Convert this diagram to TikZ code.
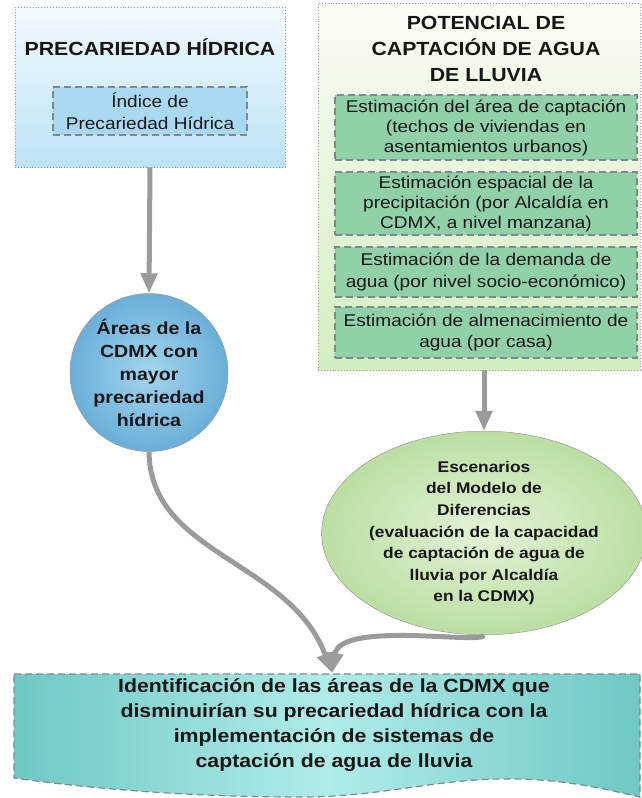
\documentclass[tikz,border=0pt]{standalone}
\usepackage{fontspec}
\setmainfont{Liberation Sans}[FakeStretch=1.12]
\usetikzlibrary{arrows.meta,shapes.geometric,calc}
\definecolor{textc}{HTML}{161616}
\definecolor{bordergray}{HTML}{9A9A9A}
\definecolor{dashgray}{HTML}{7C8A8C}
\definecolor{arrgray}{HTML}{9B9B9B}
\definecolor{lbtop}{HTML}{F3FAFE}
\definecolor{lbbot}{HTML}{BCE3F5}
\definecolor{idxblue}{HTML}{A8D9F1}
\definecolor{circin}{HTML}{A3D5EE}
\definecolor{circout}{HTML}{6AAFD8}
\definecolor{rbtop}{HTML}{FAFDF4}
\definecolor{rbbot}{HTML}{D4EEC0}
\definecolor{greenbox}{HTML}{90D1AA}
\definecolor{ellin}{HTML}{E4F3D6}
\definecolor{ellout}{HTML}{BBDEA3}
\definecolor{tealedge}{HTML}{6EC8C4}
\definecolor{tealmid}{HTML}{B0ECE8}
\begin{document}
\begin{tikzpicture}[x=1pt,y=-1pt,
  outerbox/.style={draw=bordergray, dotted, line width=0.9pt, inner sep=0pt},
  dashbox/.style={draw=dashgray, dash pattern=on 7pt off 4pt, line width=1.4pt, inner sep=0pt,
    text=textc, align=center, font=\fontsize{17}{20}\selectfont},
  titletxt/.style={text=textc, align=center, inner sep=0pt, font=\bfseries\fontsize{19}{26}\selectfont},
  arr/.style={draw=arrgray, line width=5pt, -{Triangle[width=16pt,length=20pt]}},
]
\useasboundingbox (0,0) rectangle (641,798);

% left panel
\node[outerbox, minimum width=270pt, minimum height=160pt, top color=lbtop, bottom color=lbbot] (prebox) at (150,87) {};
\node[titletxt] (pretitle) at (150,47) {PRECARIEDAD HÍDRICA};
\node[dashbox, fill=idxblue, minimum width=194pt, minimum height=48pt, font=\fontsize{17}{22.5}\selectfont] (idx) at (150,111) {Índice de\\Precariedad Hídrica};

% circle
\node[circle, draw=bordergray, line width=0.5pt, minimum size=158pt, inner sep=0pt, inner color=circin, outer color=circout,
  text=textc, align=center, font=\bfseries\fontsize{17.5}{23}\selectfont] (areas) at (149,372.5)
  {Áreas de la\\CDMX con\\mayor\\precariedad\\hídrica};

% right panel
\node[outerbox, minimum width=322pt, minimum height=367pt, top color=rbtop, bottom color=rbbot] (potbox) at (479,186.5) {};
\node[titletxt] (pottitle) at (486,49) {POTENCIAL DE\\CAPTACIÓN DE AGUA\\DE LLUVIA};
\node[dashbox, fill=greenbox, minimum width=302pt, minimum height=65pt] (est1) at (486,127.5)
  {Estimación del área de captación\\(techos de viviendas en\\asentamientos urbanos)};
\node[dashbox, fill=greenbox, minimum width=302pt, minimum height=63pt] (est2) at (486,203.5)
  {Estimación espacial de la\\precipitación (por Alcaldía en\\CDMX, a nivel manzana)};
\node[dashbox, fill=greenbox, minimum width=302pt, minimum height=50pt, font=\fontsize{17}{21.5}\selectfont] (est3) at (486,272)
  {Estimación de la demanda de\\agua (por nivel socio-económico)};
\node[dashbox, fill=greenbox, minimum width=302pt, minimum height=51pt, font=\fontsize{17}{21.5}\selectfont] (est4) at (486,332.5)
  {Estimación de almenacimiento de\\agua (por casa)};

% ellipse
\node[ellipse, draw=bordergray, line width=0.5pt, minimum width=238pt, minimum height=188pt, inner sep=0pt,
  inner color=ellin, outer color=ellout, text=textc, align=center,
  font=\bfseries\fontsize{15.5}{21.6}\selectfont] (esc) at (484,533)
  {Escenarios\\del Modelo de\\Diferencias\\(evaluación de la capacidad\\de captación de agua de\\lluvia por Alcaldía\\en la CDMX)};

% bottom document shape
\shadedraw[left color=tealedge, right color=tealedge, middle color=tealmid, draw=dashgray,
  dash pattern=on 7pt off 4pt, line width=1.2pt]
  (14,674) -- (640,674) -- (640,797)
  .. controls (600,788) and (560,778) .. (500,779)
  .. controls (430,780) and (380,797) .. (300,797)
  .. controls (200,797) and (100,790) .. (14,778) -- cycle;
\node[text=textc, align=center, inner sep=0pt, font=\bfseries\fontsize{19}{24.8}\selectfont] (ident) at (334,725)
  {Identificación de las áreas de la CDMX que\\disminuirían su precariedad hídrica con la\\implementación de sistemas de\\captación de agua de lluvia};
\coordinate (identtop) at (332,673);

% connectors
\draw[arr] (prebox.south) -- (areas.north);
\draw[arr] (esc.north |- potbox.south) -- (esc.north);
\draw[arr] (areas.south) .. controls (150,555) and (290,560) .. (identtop);
\draw[arr] (esc.south) .. controls (484,645) and (340,620) .. (identtop);
\end{tikzpicture}
\end{document}
